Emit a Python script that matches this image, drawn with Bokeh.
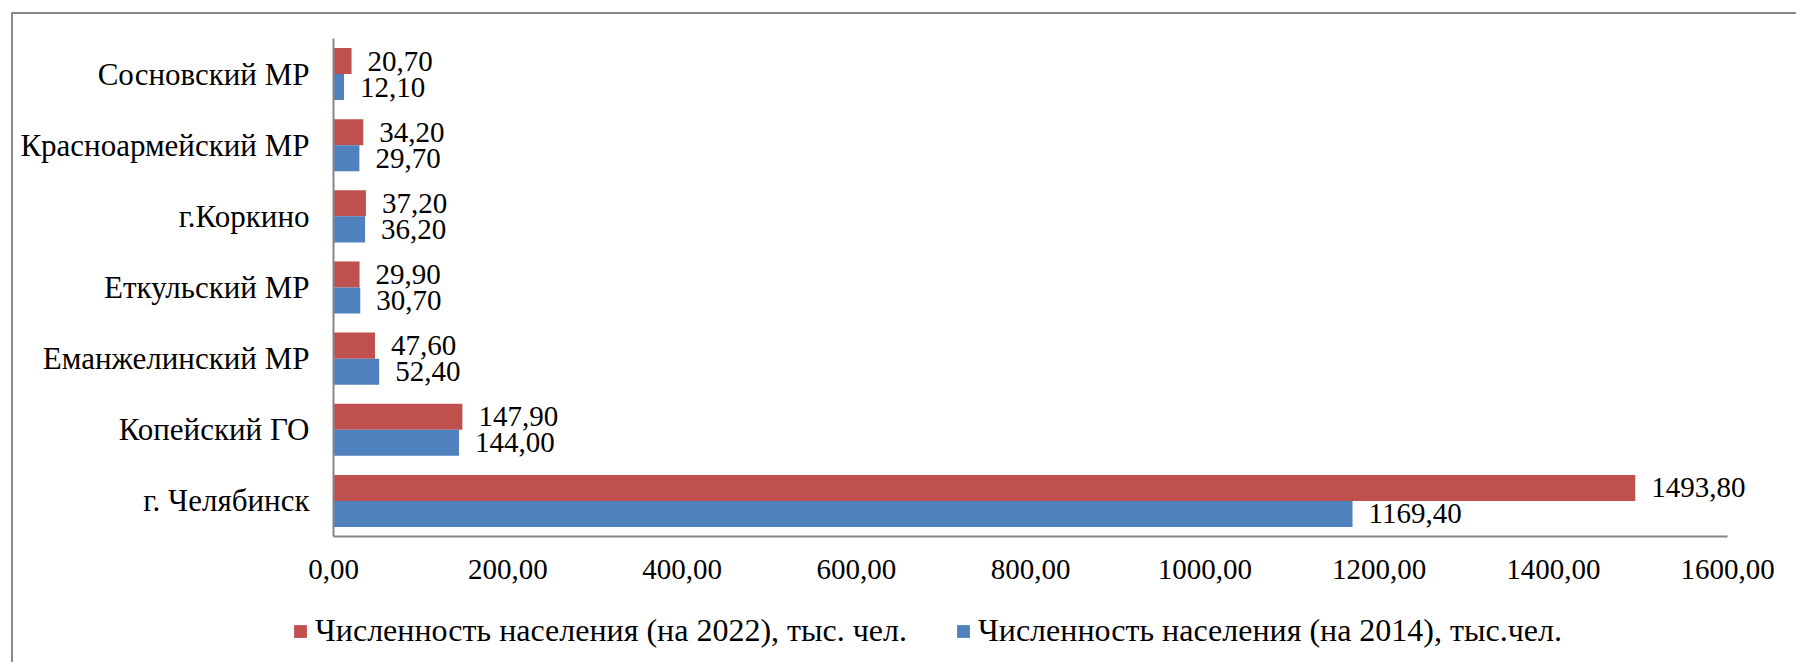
from bokeh.plotting import figure
from bokeh.models import ColumnDataSource, Range1d, FixedTicker, Legend, LegendItem
from bokeh.transform import dodge
from bokeh.core.properties import value
from bokeh.embed import file_html
from bokeh.resources import INLINE

# ---- data (top-to-bottom as in the reference) ----
categories = ["Сосновский МР", "Красноармейский МР", "г.Коркино", "Еткульский МР",
              "Еманжелинский МР", "Копейский ГО", "г. Челябинск"]
pop_2022 = [20.70, 34.20, 37.20, 29.90, 47.60, 147.90, 1493.80]
pop_2014 = [12.10, 29.70, 36.20, 30.70, 52.40, 144.00, 1169.40]
series_names = ["Численность населения (на 2022), тыс. чел.",
                "Численность населения (на 2014), тыс.чел."]
tick_values = [0, 200, 400, 600, 800, 1000, 1200, 1400, 1600]
tick_labels = ["0,00", "200,00", "400,00", "600,00", "800,00",
               "1000,00", "1200,00", "1400,00", "1600,00"]

RED = "#C0504D"
BLUE = "#4F81BD"
FONT = "Liberation Serif"

# canvas geometry (px)
W, HGT = 1785, 650
AX_LEFT, PLOT_TOP, PLOT_BOTTOM = 320, 24, 522     # inside the canvas
X_MAX = 1600
PX_PER_UNIT = 0.8714
N = len(categories)
PX_PER_CAT = (PLOT_BOTTOM - PLOT_TOP) / N

def fmt(v):
    return f"{v:.2f}".replace(".", ",")

# category index 0 is the bottom row
pos = list(range(N))
rev_cats = list(reversed(categories))
src = ColumnDataSource(dict(
    pos=pos,
    v22=list(reversed(pop_2022)),
    v14=list(reversed(pop_2014)),
    l22=[fmt(v) for v in reversed(pop_2022)],
    l14=[fmt(v) for v in reversed(pop_2014)],
))

x_start = -AX_LEFT / PX_PER_UNIT
x_end = (W - AX_LEFT) / PX_PER_UNIT
y_top = (N - 0.5) + PLOT_TOP / PX_PER_CAT
y_bottom = -0.5 - (HGT - PLOT_BOTTOM) / PX_PER_CAT

p = figure(
    width=W, height=HGT,
    x_range=Range1d(x_start, x_end), y_range=Range1d(y_bottom, y_top),
    output_backend="svg", toolbar_location=None,
    min_border_left=0, min_border_right=0, min_border_top=0, min_border_bottom=0,
)
p.styles = {"border-top": "2px solid #8a8a8a", "border-left": "2px solid #8a8a8a",
            "transform": "translate(11px, 12px)"}
p.outline_line_color = None
p.background_fill_color = "white"
p.border_fill_color = "white"
p.xgrid.grid_line_color = None
p.ygrid.grid_line_color = None

H = 0.366
r22 = p.hbar(y=dodge("pos", H / 2), left=0, right="v22", height=H,
             source=src, fill_color=RED, line_color=None)
r14 = p.hbar(y=dodge("pos", -H / 2), left=0, right="v14", height=H,
             source=src, fill_color=BLUE, line_color=None)

p.text(x="v22", y=dodge("pos", H / 2), text="l22", source=src,
       x_offset=16, text_align="left", text_baseline="middle",
       text_font=value(FONT), text_font_size="29px", text_color="black")
p.text(x="v14", y=dodge("pos", -H / 2), text="l14", source=src,
       x_offset=16, text_align="left", text_baseline="middle",
       text_font=value(FONT), text_font_size="29px", text_color="black")

for ax in (p.xaxis[0], p.yaxis[0]):
    ax.axis_line_color = "#868686"
    ax.axis_line_width = 2
    ax.major_tick_line_color = None
    ax.minor_tick_line_color = None
    ax.major_tick_out = 0
    ax.major_tick_in = 0
    ax.major_label_text_font = FONT
    ax.major_label_text_color = "black"

p.xaxis.fixed_location = -0.5
p.xaxis.bounds = (0, X_MAX)
p.xaxis.ticker = FixedTicker(ticks=tick_values)
p.xaxis.major_label_overrides = {v: l for v, l in zip(tick_values, tick_labels)}
p.xaxis.major_label_text_font_size = "29px"
p.xaxis.major_label_standoff = 23

p.yaxis.fixed_location = 0
p.yaxis.bounds = (-0.5, N - 0.5)
p.yaxis.ticker = FixedTicker(ticks=pos)
p.yaxis.major_label_overrides = {i: c for i, c in zip(pos, rev_cats)}
p.yaxis.major_label_text_font_size = "31px"
p.yaxis.major_label_standoff = 24

legend = Legend(
    items=[LegendItem(label=series_names[0], renderers=[r22]),
           LegendItem(label=series_names[1], renderers=[r14])],
    orientation="horizontal",
    location=(279, 15),
    glyph_width=16, glyph_height=16,
    label_standoff=7, spacing=48,
    padding=0, margin=0,
    border_line_color=None, background_fill_alpha=0,
    label_text_font=FONT, label_text_font_size="32px", label_text_color="black",
)
p.add_layout(legend)

open("out.html", "w").write(file_html(p, INLINE))
